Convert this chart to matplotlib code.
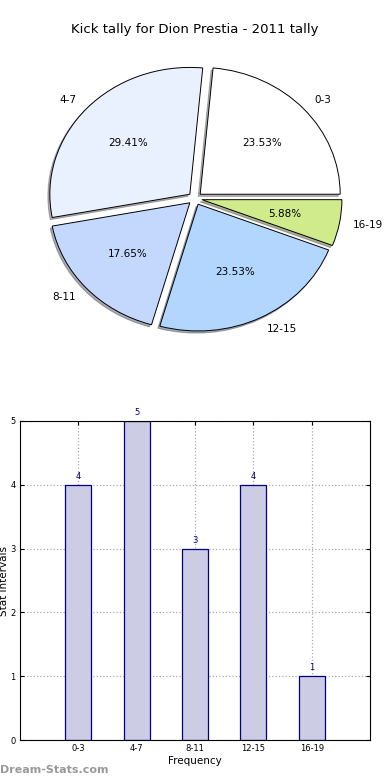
import matplotlib.pyplot as plt

labels = ["0-3", "4-7", "8-11", "12-15", "16-19"]
tally = [4, 5, 3, 4, 1]
slice_colors = ["#FFFFFF", "#EAF1FE", "#C4D8FE", "#B3D6FF", "#CFEB8B"]

fig = plt.figure(figsize=(3.9, 7.8), dpi=100)

# pie on top (old-style, not equal aspect)
ax1 = fig.add_axes([20 / 390, 1 - 357 / 780, 350 / 390, 317 / 780])
ax1.pie(tally, labels=labels, colors=slice_colors, explode=[0.05] * len(tally),
        autopct="%1.2f%%", shadow={"ox": -0.01, "oy": -0.012, "shade": 0.6},
        startangle=0,
        wedgeprops={"edgecolor": "black", "linewidth": 0.7},
        textprops={"fontsize": 7.5})
ax1.set_aspect("auto")
ax1.set_xlim(-1.25, 1.25)
ax1.set_ylim(-1.25, 1.25)
fig.text(0.5, 1 - 30 / 780, "Kick tally for Dion Prestia - 2011 tally",
         ha="center", va="center", fontsize=9.5)

# bars below
ax2 = fig.add_axes([20 / 390, 1 - 740 / 780, 350 / 390, 319 / 780])
pos = list(range(len(labels)))
ax2.bar(pos, tally, width=0.45, color="#CCCCE5", edgecolor="navy", linewidth=0.9, zorder=2)
for x, h in zip(pos, tally):
    ax2.text(x, h + 0.06, str(h), ha="center", va="bottom", fontsize=6, color="navy")
ax2.set_xlim(-1, 5)
ax2.set_ylim(0, 5)
ax2.set_xticks(pos)
ax2.set_xticklabels(labels)
ax2.set_yticks(range(6))
ax2.tick_params(labelsize=6, direction="in", top=True, right=True, length=3, pad=3)
ax2.grid(True, linestyle=":", color="#AAAAAA", linewidth=0.9, zorder=0)
ax2.set_axisbelow(True)
ax2.set_xlabel("Frequency", fontsize=7.5, labelpad=2)
ax2.set_ylabel("Stat intervals", fontsize=7.5)
ax2.yaxis.set_label_coords(-11 / 350, 0.5)

fig.text(0.0, 1 - 770 / 780, "Dream-Stats.com", ha="left", va="center",
         fontsize=8, color="#999999", fontweight="bold")

fig.savefig("out.png", dpi=100)
